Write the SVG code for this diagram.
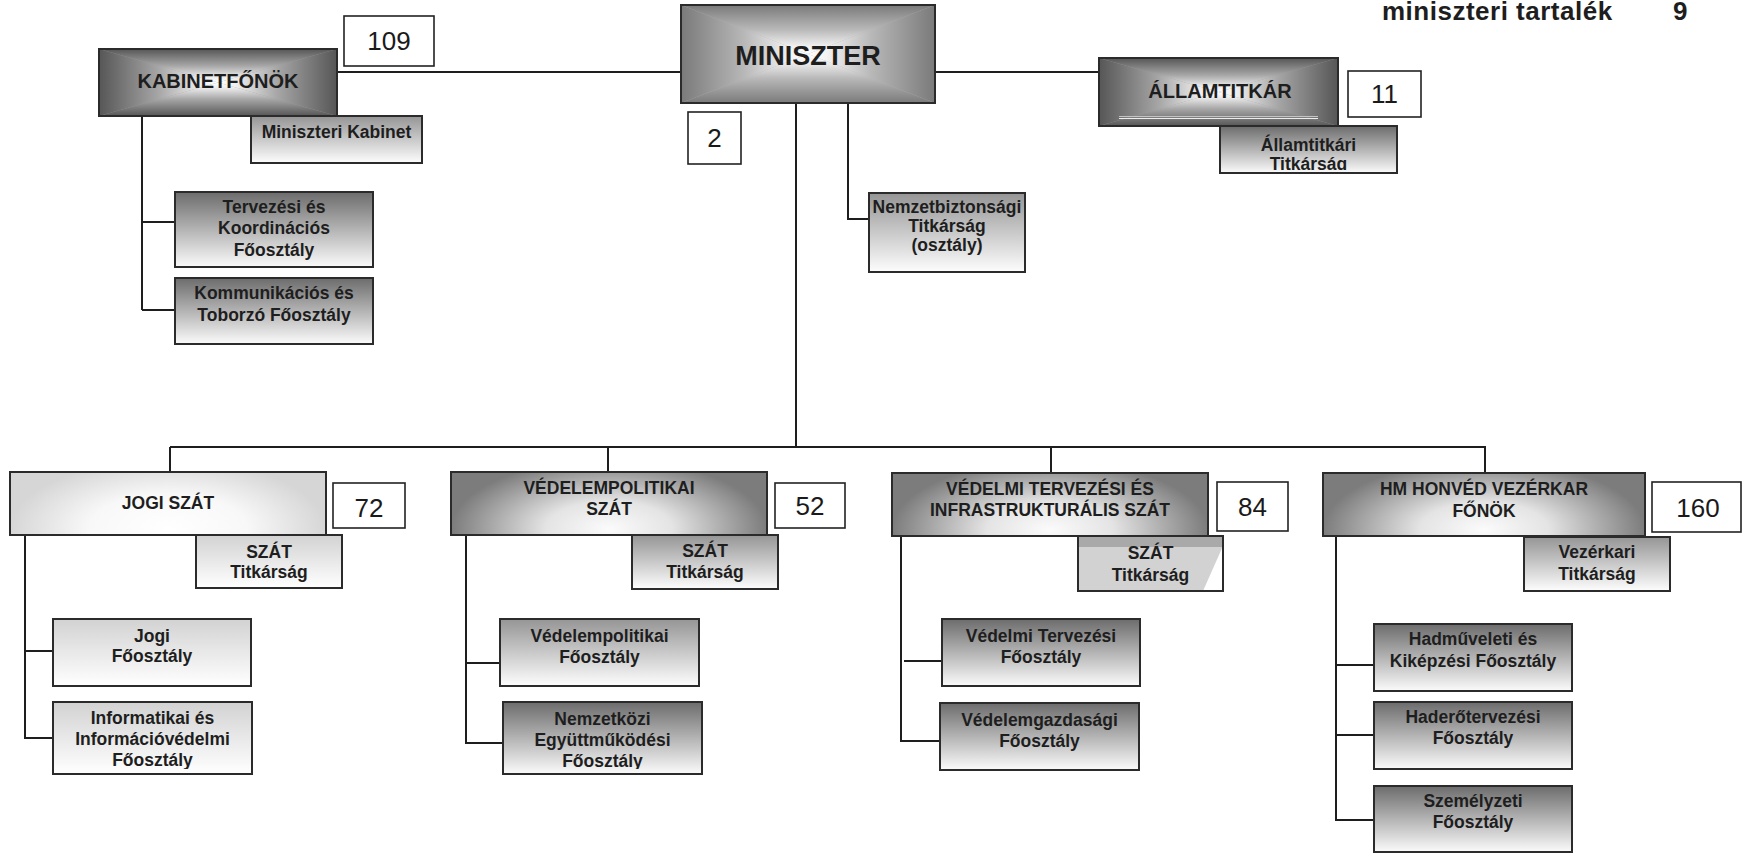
<svg xmlns="http://www.w3.org/2000/svg" width="1742" height="857" viewBox="0 0 1742 857">
  <style>
    text { font-family: "Liberation Sans", Arial, sans-serif; fill: #1e1e1e; }
    .b { font-weight: bold; text-anchor: middle; font-size: 17.5px; }
    .hd { font-weight: bold; text-anchor: middle; font-size: 17.5px; }
    .num { font-size: 26px; text-anchor: middle; fill: #1a1a1a; }
    .frame { fill: none; stroke: #2b2b2b; stroke-width: 2; }
    .numbox { fill: #ffffff; stroke: #222222; stroke-width: 1.6; }
    .base-dk { fill: #9a9a9a; }
    .base-md { fill: #b0b0b0; }
    #connectors line, #connectors polyline { stroke: #1e1e1e; stroke-width: 2; fill: none; }
  </style>
  <defs>
    <!-- rectangular "from centre" shading built from four triangles -->
    <linearGradient id="dkT" x1="0" y1="0" x2="0" y2="1"><stop offset="0" stop-color="#565656"/><stop offset="0.5" stop-color="#a6a6a6"/><stop offset="0.85" stop-color="#eeeeee"/><stop offset="1" stop-color="#ffffff"/></linearGradient>
    <linearGradient id="dkB" x1="0" y1="1" x2="0" y2="0"><stop offset="0" stop-color="#565656"/><stop offset="0.5" stop-color="#a6a6a6"/><stop offset="0.85" stop-color="#eeeeee"/><stop offset="1" stop-color="#ffffff"/></linearGradient>
    <linearGradient id="dkL" x1="0" y1="0" x2="1" y2="0"><stop offset="0" stop-color="#565656"/><stop offset="0.5" stop-color="#a6a6a6"/><stop offset="0.85" stop-color="#eeeeee"/><stop offset="1" stop-color="#ffffff"/></linearGradient>
    <linearGradient id="dkR" x1="1" y1="0" x2="0" y2="0"><stop offset="0" stop-color="#565656"/><stop offset="0.5" stop-color="#a6a6a6"/><stop offset="0.85" stop-color="#eeeeee"/><stop offset="1" stop-color="#ffffff"/></linearGradient>
    <linearGradient id="mdT" x1="0" y1="0" x2="0" y2="1"><stop offset="0" stop-color="#7a7a7a"/><stop offset="0.5" stop-color="#b8b8b8"/><stop offset="0.85" stop-color="#f2f2f2"/><stop offset="1" stop-color="#ffffff"/></linearGradient>
    <linearGradient id="mdB" x1="0" y1="1" x2="0" y2="0"><stop offset="0" stop-color="#7a7a7a"/><stop offset="0.5" stop-color="#b8b8b8"/><stop offset="0.85" stop-color="#f2f2f2"/><stop offset="1" stop-color="#ffffff"/></linearGradient>
    <linearGradient id="mdL" x1="0" y1="0" x2="1" y2="0"><stop offset="0" stop-color="#7a7a7a"/><stop offset="0.5" stop-color="#b8b8b8"/><stop offset="0.85" stop-color="#f2f2f2"/><stop offset="1" stop-color="#ffffff"/></linearGradient>
    <linearGradient id="mdR" x1="1" y1="0" x2="0" y2="0"><stop offset="0" stop-color="#7a7a7a"/><stop offset="0.5" stop-color="#b8b8b8"/><stop offset="0.85" stop-color="#f2f2f2"/><stop offset="1" stop-color="#ffffff"/></linearGradient>
    <!-- department header shading: light at the bottom centre, dark sides -->
    <radialGradient id="hdr" cx="0.5" cy="0.9" r="0.5" gradientTransform="translate(0.5 0.9) scale(1 2.2) translate(-0.5 -0.9)">
      <stop offset="0" stop-color="#fbfbfb"/><stop offset="0.4" stop-color="#e4e4e4"/><stop offset="1" stop-color="#7c7c7c"/>
    </radialGradient>
    <radialGradient id="hdrLight" cx="0.5" cy="0.9" r="0.5" gradientTransform="translate(0.5 0.9) scale(1 2.2) translate(-0.5 -0.9)">
      <stop offset="0" stop-color="#ffffff"/><stop offset="0.5" stop-color="#f8f8f8"/><stop offset="1" stop-color="#d6d6d6"/>
    </radialGradient>
    <!-- vertical shading for the smaller units -->
    <linearGradient id="vDark" x1="0" y1="0" x2="0" y2="1"><stop offset="0" stop-color="#6c6c6c"/><stop offset="1" stop-color="#fbfbfb"/></linearGradient>
    <linearGradient id="vMid" x1="0" y1="0" x2="0" y2="1"><stop offset="0" stop-color="#959595"/><stop offset="1" stop-color="#fdfdfd"/></linearGradient>
    <linearGradient id="vLight" x1="0" y1="0" x2="0" y2="1"><stop offset="0" stop-color="#d2d2d2"/><stop offset="1" stop-color="#ffffff"/></linearGradient>
    <clipPath id="clipInfo"><rect x="53" y="702" width="199" height="67"/></clipPath>
    <clipPath id="clipNemz"><rect x="503" y="702" width="199" height="67"/></clipPath>
    <clipPath id="clipAllT"><rect x="1220" y="126" width="177" height="44"/></clipPath>
  </defs>

  <rect x="0" y="0" width="1742" height="857" fill="#ffffff"/>

  <!-- reserve note -->
  <g id="tartalek">
    <text x="1382" y="19.5" font-size="26" font-weight="bold" letter-spacing="0.5">miniszteri tartalék</text>
    <text x="1673" y="19.5" font-size="26" font-weight="bold">9</text>
  </g>

  <g id="connectors">
    <line x1="337" y1="72" x2="681" y2="72"/>
    <line x1="935" y1="72" x2="1099" y2="72"/>
    <line x1="796" y1="103" x2="796" y2="447"/>
    <polyline points="848,103 848,219 870,219"/>
    <line x1="142" y1="116" x2="142" y2="310"/>
    <line x1="142" y1="222" x2="175" y2="222"/>
    <line x1="142" y1="310" x2="175" y2="310"/>
    <line x1="170" y1="447" x2="1486" y2="447"/>
    <line x1="170" y1="447" x2="170" y2="472"/>
    <line x1="608" y1="447" x2="608" y2="472"/>
    <line x1="1051" y1="447" x2="1051" y2="473"/>
    <line x1="1485" y1="447" x2="1485" y2="473"/>
    <line x1="25" y1="535" x2="25" y2="738"/>
    <line x1="25" y1="651" x2="53" y2="651"/>
    <line x1="24" y1="738" x2="53" y2="738"/>
    <line x1="466" y1="535" x2="466" y2="743"/>
    <line x1="466" y1="663" x2="500" y2="663"/>
    <line x1="465" y1="743" x2="503" y2="743"/>
    <line x1="901" y1="536" x2="901" y2="741"/>
    <line x1="904" y1="661" x2="942" y2="661"/>
    <line x1="900" y1="741" x2="940" y2="741"/>
    <line x1="1336" y1="536" x2="1336" y2="820"/>
    <line x1="1336" y1="665" x2="1374" y2="665"/>
    <line x1="1336" y1="735" x2="1374" y2="735"/>
    <line x1="1335" y1="820" x2="1374" y2="820"/>
  </g>

  <!-- top level -->
  <g id="miniszter">
    <rect class="base-md" x="681" y="5" width="254" height="98"/>
    <polygon points="681,5 935,5 808,54" fill="url(#mdT)"/>
    <polygon points="681,103 935,103 808,54" fill="url(#mdB)"/>
    <polygon points="681,5 681,103 808,54" fill="url(#mdL)"/>
    <polygon points="935,5 935,103 808,54" fill="url(#mdR)"/>
    <rect class="frame" x="681" y="5" width="254" height="98"/>
    <text x="808" y="65" font-size="27" font-weight="bold" text-anchor="middle">MINISZTER</text>
  </g>
  <g id="miniszter-num">
    <rect class="numbox" x="688" y="112" width="53" height="52"/>
    <text class="num" x="714.5" y="147">2</text>
  </g>

  <g id="kabinetfonok">
    <rect class="base-dk" x="99" y="49" width="238" height="67"/>
    <polygon points="99,49 337,49 218,82.5" fill="url(#dkT)"/>
    <polygon points="99,116 337,116 218,82.5" fill="url(#dkB)"/>
    <polygon points="99,49 99,116 218,82.5" fill="url(#dkL)"/>
    <polygon points="337,49 337,116 218,82.5" fill="url(#dkR)"/>
    <rect class="frame" x="99" y="49" width="238" height="67"/>
    <text x="218" y="88" font-size="20" font-weight="bold" text-anchor="middle">KABINETFŐNÖK</text>
  </g>
  <g id="kabinetfonok-num">
    <rect class="numbox" x="344" y="16" width="90" height="50"/>
    <text class="num" x="389" y="50">109</text>
  </g>
  <g id="miniszteri-kabinet">
    <rect x="251" y="116" width="171" height="47" fill="url(#vMid)"/>
    <rect class="frame" x="251" y="116" width="171" height="47"/>
    <text class="b" x="336.5" y="138" font-size="17">Miniszteri Kabinet</text>
  </g>
  <g id="tervezesi">
    <rect x="175" y="192" width="198" height="75" fill="url(#vDark)"/>
    <rect class="frame" x="175" y="192" width="198" height="75"/>
    <text class="b" x="274" y="213">Tervezési és</text>
    <text class="b" x="274" y="234">Koordinációs</text>
    <text class="b" x="274" y="256">Főosztály</text>
  </g>
  <g id="kommunikacios">
    <rect x="175" y="278" width="198" height="66" fill="url(#vDark)"/>
    <rect class="frame" x="175" y="278" width="198" height="66"/>
    <text class="b" x="274" y="299">Kommunikációs és</text>
    <text class="b" x="274" y="321">Toborzó Főosztály</text>
  </g>

  <g id="nemzetbiztonsagi">
    <rect x="869" y="193" width="156" height="79" fill="url(#vMid)"/>
    <rect class="frame" x="869" y="193" width="156" height="79"/>
    <text class="b" x="947" y="213" font-size="15">Nemzetbiztonsági</text>
    <text class="b" x="947" y="232" font-size="15">Titkárság</text>
    <text class="b" x="947" y="251" font-size="15">(osztály)</text>
  </g>

  <g id="allamtitkar">
    <rect class="base-dk" x="1099" y="58" width="239" height="68"/>
    <polygon points="1099,58 1338,58 1218.5,92" fill="url(#dkT)"/>
    <polygon points="1099,126 1338,126 1218.5,92" fill="url(#dkB)"/>
    <polygon points="1099,58 1099,126 1218.5,92" fill="url(#dkL)"/>
    <polygon points="1338,58 1338,126 1218.5,92" fill="url(#dkR)"/>
    <line x1="1119" y1="116.5" x2="1318" y2="116.5" stroke="#c4c4c4" stroke-width="1"/>
    <line x1="1119" y1="118.5" x2="1318" y2="118.5" stroke="#ececec" stroke-width="1"/>
    <rect class="frame" x="1099" y="58" width="239" height="68"/>
    <text x="1220" y="98" font-size="20" font-weight="bold" text-anchor="middle">ÁLLAMTITKÁR</text>
  </g>
  <g id="allamtitkar-num">
    <rect class="numbox" x="1348" y="71" width="73" height="46"/>
    <text class="num" x="1384.5" y="103">11</text>
  </g>
  <g id="allamtitkari-titkarsag">
    <rect x="1220" y="126" width="177" height="47" fill="url(#vDark)"/>
    <g clip-path="url(#clipAllT)">
      <text class="b" x="1308.5" y="151" font-size="17">Államtitkári</text>
      <text class="b" x="1308.5" y="170" font-size="17">Titkárság</text>
    </g>
    <rect class="frame" x="1220" y="126" width="177" height="47"/>
  </g>

  <!-- legal department -->
  <g id="jogi-szat">
    <rect x="10" y="472" width="316" height="63" fill="url(#hdrLight)"/>
    <rect class="frame" x="10" y="472" width="316" height="63"/>
    <text class="hd" x="168" y="509">JOGI SZÁT</text>
  </g>
  <g id="jogi-num">
    <rect class="numbox" x="333" y="483" width="72" height="45"/>
    <text class="num" x="369" y="517">72</text>
  </g>
  <g id="jogi-titkarsag">
    <rect x="196" y="535" width="146" height="53" fill="url(#vLight)"/>
    <rect class="frame" x="196" y="535" width="146" height="53"/>
    <text class="b" x="269" y="558">SZÁT</text>
    <text class="b" x="269" y="578">Titkárság</text>
  </g>
  <g id="jogi-foosztaly">
    <rect x="53" y="619" width="198" height="67" fill="url(#vLight)"/>
    <rect class="frame" x="53" y="619" width="198" height="67"/>
    <text class="b" x="152" y="642">Jogi</text>
    <text class="b" x="152" y="662">Főosztály</text>
  </g>
  <g id="informatikai">
    <rect x="53" y="702" width="199" height="72" fill="url(#vLight)"/>
    <g clip-path="url(#clipInfo)">
      <text class="b" x="152.5" y="724">Informatikai és</text>
      <text class="b" x="152.5" y="745">Információvédelmi</text>
      <text class="b" x="152.5" y="766">Főosztály</text>
    </g>
    <rect class="frame" x="53" y="702" width="199" height="72"/>
  </g>

  <!-- defence policy department -->
  <g id="vedelempolitikai-szat">
    <rect x="451" y="472" width="316" height="63" fill="url(#hdr)"/>
    <rect class="frame" x="451" y="472" width="316" height="63"/>
    <text class="hd" x="609" y="494">VÉDELEMPOLITIKAI</text>
    <text class="hd" x="609" y="515">SZÁT</text>
  </g>
  <g id="vedelempolitikai-num">
    <rect class="numbox" x="775" y="483" width="70" height="45"/>
    <text class="num" x="810" y="515">52</text>
  </g>
  <g id="vedelempolitikai-titkarsag">
    <rect x="632" y="535" width="146" height="54" fill="url(#vMid)"/>
    <rect class="frame" x="632" y="535" width="146" height="54"/>
    <text class="b" x="705" y="557">SZÁT</text>
    <text class="b" x="705" y="578">Titkárság</text>
  </g>
  <g id="vedelempolitikai-foosztaly">
    <rect x="500" y="619" width="199" height="67" fill="url(#vMid)"/>
    <rect class="frame" x="500" y="619" width="199" height="67"/>
    <text class="b" x="599.5" y="642">Védelempolitikai</text>
    <text class="b" x="599.5" y="663">Főosztály</text>
  </g>
  <g id="nemzetkozi">
    <rect x="503" y="702" width="199" height="72" fill="url(#vDark)"/>
    <g clip-path="url(#clipNemz)">
      <text class="b" x="602.5" y="725">Nemzetközi</text>
      <text class="b" x="602.5" y="746">Együttműködési</text>
      <text class="b" x="602.5" y="767">Főosztály</text>
    </g>
    <rect class="frame" x="503" y="702" width="199" height="72"/>
  </g>

  <!-- defence planning department -->
  <g id="vedelmi-tervezesi-szat">
    <rect x="892" y="473" width="316" height="63" fill="url(#hdr)"/>
    <rect class="frame" x="892" y="473" width="316" height="63"/>
    <text class="hd" x="1050" y="495">VÉDELMI TERVEZÉSI ÉS</text>
    <text class="hd" x="1050" y="516">INFRASTRUKTURÁLIS SZÁT</text>
  </g>
  <g id="vedelmi-tervezesi-num">
    <rect class="numbox" x="1217" y="482" width="71" height="49"/>
    <text class="num" x="1252.5" y="516">84</text>
  </g>
  <g id="vedelmi-tervezesi-titkarsag">
    <rect x="1078" y="536" width="145" height="55" fill="#d2d2d2"/>
    <rect x="1078" y="536" width="145" height="11" fill="#a9a9a9"/>
    <polygon points="1223,546 1223,591 1203,591" fill="#ffffff"/>
    <rect class="frame" x="1078" y="536" width="145" height="55"/>
    <text class="b" x="1150.5" y="559">SZÁT</text>
    <text class="b" x="1150.5" y="581">Titkárság</text>
  </g>
  <g id="vedelmi-tervezesi-foosztaly">
    <rect x="942" y="619" width="198" height="67" fill="url(#vDark)"/>
    <rect class="frame" x="942" y="619" width="198" height="67"/>
    <text class="b" x="1041" y="642">Védelmi Tervezési</text>
    <text class="b" x="1041" y="663">Főosztály</text>
  </g>
  <g id="vedelemgazdasagi">
    <rect x="940" y="703" width="199" height="67" fill="url(#vDark)"/>
    <rect class="frame" x="940" y="703" width="199" height="67"/>
    <text class="b" x="1039.5" y="726">Védelemgazdasági</text>
    <text class="b" x="1039.5" y="747">Főosztály</text>
  </g>

  <!-- general staff -->
  <g id="vezerkar">
    <rect x="1323" y="473" width="322" height="63" fill="url(#hdr)"/>
    <rect class="frame" x="1323" y="473" width="322" height="63"/>
    <text class="hd" x="1484" y="495" font-size="18">HM HONVÉD VEZÉRKAR</text>
    <text class="hd" x="1484" y="517" font-size="18">FŐNÖK</text>
  </g>
  <g id="vezerkar-num">
    <rect class="numbox" x="1652" y="482" width="89" height="50"/>
    <text class="num" x="1698" y="517">160</text>
  </g>
  <g id="vezerkari-titkarsag">
    <rect x="1524" y="537" width="146" height="54" fill="url(#vMid)"/>
    <rect class="frame" x="1524" y="537" width="146" height="54"/>
    <text class="b" x="1597" y="558">Vezérkari</text>
    <text class="b" x="1597" y="580">Titkárság</text>
  </g>
  <g id="hadmuveleti">
    <rect x="1374" y="624" width="198" height="67" fill="url(#vDark)"/>
    <rect class="frame" x="1374" y="624" width="198" height="67"/>
    <text class="b" x="1473" y="645">Hadműveleti és</text>
    <text class="b" x="1473" y="667">Kiképzési Főosztály</text>
  </g>
  <g id="haderotervezesi">
    <rect x="1374" y="702" width="198" height="67" fill="url(#vDark)"/>
    <rect class="frame" x="1374" y="702" width="198" height="67"/>
    <text class="b" x="1473" y="723">Haderőtervezési</text>
    <text class="b" x="1473" y="744">Főosztály</text>
  </g>
  <g id="szemelyzeti">
    <rect x="1374" y="786" width="198" height="66" fill="url(#vDark)"/>
    <rect class="frame" x="1374" y="786" width="198" height="66"/>
    <text class="b" x="1473" y="807">Személyzeti</text>
    <text class="b" x="1473" y="828">Főosztály</text>
  </g>
</svg>
